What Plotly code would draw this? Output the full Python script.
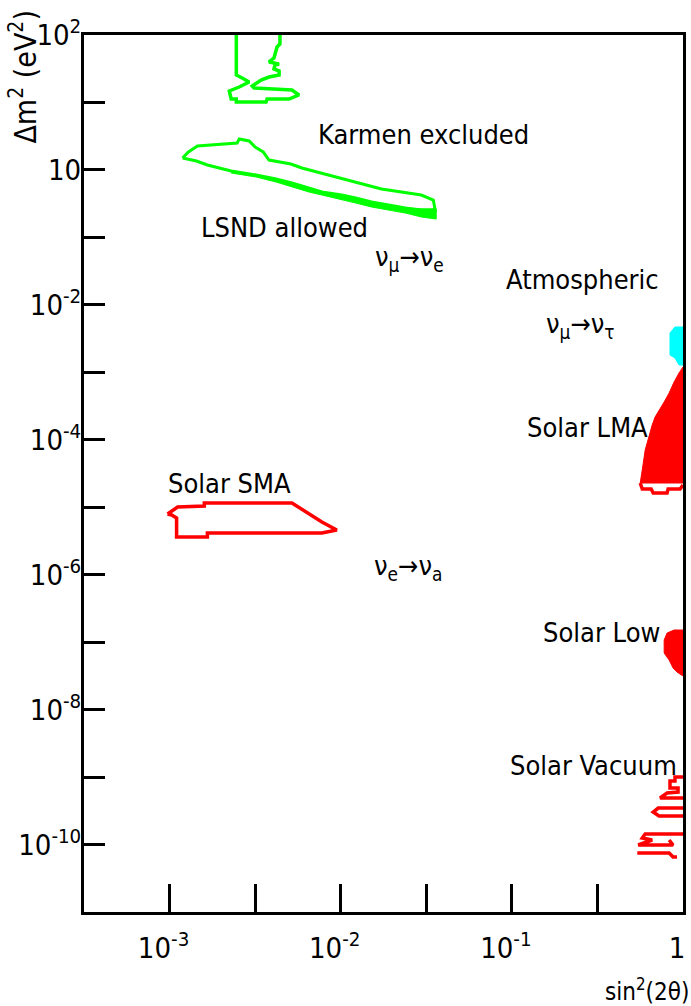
import numpy as np
import plotly.graph_objects as go

# ---- data (log10 exponents) ----
# x = sin^2(2θ), y = Δm^2 (eV^2)
karmen_lx = [-2.610, -2.610, -2.576, -2.535, -2.593, -2.651, -2.640, -2.610, -2.610, -2.436,
             -2.430, -2.302, -2.244, -2.285, -2.506, -2.517, -2.465, -2.419, -2.360, -2.360,
             -2.390, -2.384, -2.360, -2.419, -2.390, -2.372, -2.355, -2.355]
karmen_ly = [2.0, 1.407, 1.363, 1.303, 1.229, 1.170, 1.051, 1.051, 1.007, 1.007,
             1.051, 1.051, 1.111, 1.185, 1.214, 1.244, 1.333, 1.377, 1.407, 1.466,
             1.496, 1.555, 1.570, 1.600, 1.659, 1.822, 1.867, 2.0]

lsnd_lx = [-2.924, -2.890, -2.837, -2.605, -2.593, -2.535, -2.500, -2.453, -2.419, -2.291,
           -2.227, -2.140, -2.029, -1.936, -1.837, -1.762, -1.645, -1.529, -1.459, -1.448,
           -1.529, -1.622, -1.721, -1.820, -1.913, -1.994, -2.110, -2.186, -2.285, -2.378,
           -2.494, -2.640, -2.709, -2.779, -2.843, -2.924]
lsnd_ly = [0.177, 0.266, 0.355, 0.399, 0.458, 0.429, 0.340, 0.266, 0.147, 0.088,
           0.028, -0.031, -0.105, -0.164, -0.238, -0.283, -0.327, -0.372, -0.446, -0.594,
           -0.594, -0.564, -0.520, -0.476, -0.416, -0.372, -0.327, -0.268, -0.194, -0.135,
           -0.075, -0.016, 0.028, 0.073, 0.132, 0.177]

lsnd_band_lx = [-2.640, -2.494, -2.378, -2.285, -2.186, -2.110, -1.994, -1.913, -1.820, -1.721,
                -1.622, -1.529, -1.442, -1.442, -1.529, -1.622, -1.721, -1.820, -1.913, -1.994,
                -2.110, -2.186, -2.285, -2.378, -2.494, -2.640]
lsnd_band_ly = [-0.016, -0.075, -0.135, -0.194, -0.268, -0.327, -0.372, -0.416, -0.476, -0.520,
                -0.564, -0.579, -0.579, -0.728, -0.698, -0.639, -0.594, -0.550, -0.490, -0.446,
                -0.372, -0.327, -0.253, -0.179, -0.105, -0.046]

sma_lx = [-3.012, -2.953, -2.797, -2.797, -2.285, -2.227, -2.169, -2.110, -2.023, -2.110,
          -2.779, -2.779, -2.959, -2.959, -2.988, -3.012]
sma_ly = [-5.100, -4.997, -4.982, -4.937, -4.937, -5.026, -5.130, -5.219, -5.338, -5.382,
          -5.382, -5.441, -5.441, -5.160, -5.115, -5.100]

atm_lx = [-0.047, 0.0, 0.0, -0.023, -0.047, -0.076, -0.076, -0.047]
atm_ly = [-2.328, -2.328, -2.892, -2.892, -2.788, -2.744, -2.417, -2.328]

lma_lx = [0.0, -0.023, -0.052, -0.081, -0.110, -0.140, -0.163, -0.180, -0.198, -0.221,
          -0.238, -0.250, 0.0]
lma_ly = [-2.921, -3.010, -3.144, -3.307, -3.440, -3.559, -3.663, -3.781, -3.929, -4.152,
          -4.448, -4.641, -4.641]
lma_edge_lx = [-0.250, -0.238, -0.186, -0.174, -0.093, -0.087, -0.017, 0.0]
lma_edge_ly = [-4.641, -4.730, -4.730, -4.789, -4.789, -4.730, -4.730, -4.671]

low_lx = [0.0, -0.052, -0.093, -0.110, -0.110, -0.081, -0.058, -0.035, 0.0]
low_ly = [-6.820, -6.820, -6.865, -6.968, -7.161, -7.265, -7.383, -7.443, -7.502]

vac1_lx = [0.0, -0.047, -0.047, -0.076, -0.076, -0.029, -0.029, -0.093, -0.134, 0.0]
vac1_ly = [-8.999, -8.999, -9.058, -9.058, -9.162, -9.162, -9.222, -9.236, -9.310, -9.310]
vac2_lx = [0.0, -0.145, -0.174, -0.140, 0.0]
vac2_ly = [-9.459, -9.459, -9.518, -9.577, -9.577]
vac3_lx = [0.0, -0.221, -0.238, -0.180, -0.262, -0.058, -0.081]
vac3_ly = [-9.844, -9.844, -9.903, -9.933, -10.007, -10.007, -9.933]
vac4_lx = [-0.267, -0.081, -0.058, -0.035]
vac4_ly = [-10.126, -10.126, -10.185, -10.185]

label_text = ["Karmen excluded", "LSND allowed", "ν<sub>μ</sub>→ν<sub>e</sub>", "Atmospheric",
              "ν<sub>μ</sub>→ν<sub>τ</sub>", "Solar LMA", "Solar SMA", "ν<sub>e</sub>→ν<sub>a</sub>",
              "Solar Low", "Solar Vacuum"]
label_lx = [-1.517, -2.326, -1.599, -0.587, -0.599, -0.558, -2.651, -1.605, -0.477, -0.523]
label_ly = [0.518, -0.846, -1.306, -1.617, -2.299, -3.811, -4.641, -5.886, -6.850, -8.821]

x_tick_exp = [-3, -2, -1, 0]
x_tick_text = ["10<sup>-3</sup>", "10<sup>-2</sup>", "10<sup>-1</sup>", "1"]
x_minor_exp = [-2.5, -1.5, -0.5]
y_tick_exp = [2, 0, -2, -4, -6, -8, -10]
y_tick_text = ["10<sup>2</sup>", "10", "10<sup>-2</sup>", "10<sup>-4</sup>",
               "10<sup>-6</sup>", "10<sup>-8</sup>", "10<sup>-10</sup>"]
y_minor_exp = [1, -1, -3, -5, -7, -9]
x_range_exp = [-3.5, 0]
y_range_exp = [-11, 2]

# ---- figure ----
FONT = "Liberation Sans Narrow, DejaVu Sans Condensed, Liberation Sans, sans-serif"
GREEN = "#00ff00"
RED = "#ff0000"
CYAN = "#00ffff"

def P(a):
    return 10.0 ** np.asarray(a, dtype=float)

fig = go.Figure()

def line(lx, ly, color, w=3):
    fig.add_trace(go.Scatter(x=P(lx), y=P(ly), mode="lines",
                             line=dict(color=color, width=w, shape="linear"),
                             hoverinfo="skip", showlegend=False))

def area(lx, ly, color):
    fig.add_trace(go.Scatter(x=P(lx), y=P(ly), mode="lines", fill="toself",
                             fillcolor=color, line=dict(color=color, width=1),
                             hoverinfo="skip", showlegend=False))

line(karmen_lx, karmen_ly, GREEN, 3.5)
line(lsnd_lx, lsnd_ly, GREEN, 3)
area(lsnd_band_lx, lsnd_band_ly, GREEN)
line(sma_lx, sma_ly, RED, 3.5)
area(atm_lx, atm_ly, CYAN)
area(lma_lx, lma_ly, RED)
line(lma_edge_lx, lma_edge_ly, RED, 3.5)
area(low_lx, low_ly, RED)
for lx, ly in [(vac1_lx, vac1_ly), (vac2_lx, vac2_ly), (vac3_lx, vac3_ly), (vac4_lx, vac4_ly)]:
    line(lx, ly, RED, 3.5)

for t, lx, ly in zip(label_text, label_lx, label_ly):
    fig.add_annotation(x=lx, y=ly, xref="x", yref="y", text=t, showarrow=False,
                       font=dict(family=FONT, size=27, color="black"),
                       xanchor="center", yanchor="middle")

fig.add_annotation(x=-0.101, y=0.952, xref="paper", yref="paper",
                   text="Δm<sup>2</sup> (eV<sup>2</sup>)", textangle=-90, showarrow=False,
                   font=dict(family=FONT, size=30, color="black"),
                   xanchor="center", yanchor="middle")
fig.add_annotation(x=0.94, y=-0.089, xref="paper", yref="paper",
                   text="sin<sup>2</sup>(2θ)", showarrow=False,
                   font=dict(family=FONT, size=24, color="black"),
                   xanchor="center", yanchor="middle")

fig.update_layout(
    width=691, height=1006,
    margin=dict(l=84, r=5, t=35, b=94, pad=0),
    plot_bgcolor="white", paper_bgcolor="white",
    font=dict(family=FONT, size=29, color="black"),
    showlegend=False,
)
tick_style = dict(ticks="inside", tickwidth=3, tickcolor="black")
fig.update_xaxes(type="log", range=x_range_exp, showgrid=False, zeroline=False,
                 showline=True, linecolor="black", linewidth=3, mirror=True,
                 ticklen=28, tickvals=P(x_tick_exp), ticktext=x_tick_text,
                 ticklabelstandoff=8, ticklabelshift=-6, **tick_style,
                 minor=dict(tickvals=P(x_minor_exp), ticklen=28, showgrid=False, **tick_style),
                 tickfont=dict(family=FONT, size=29, color="black"))
fig.update_yaxes(type="log", range=y_range_exp, showgrid=False, zeroline=False,
                 showline=True, linecolor="black", linewidth=3, mirror=True,
                 ticklen=21, tickvals=P(y_tick_exp), ticktext=y_tick_text,
                 ticklabelstandoff=-6, **tick_style,
                 minor=dict(tickvals=P(y_minor_exp), ticklen=21, showgrid=False, **tick_style),
                 tickfont=dict(family=FONT, size=29, color="black"))

fig.write_html("out.html")
